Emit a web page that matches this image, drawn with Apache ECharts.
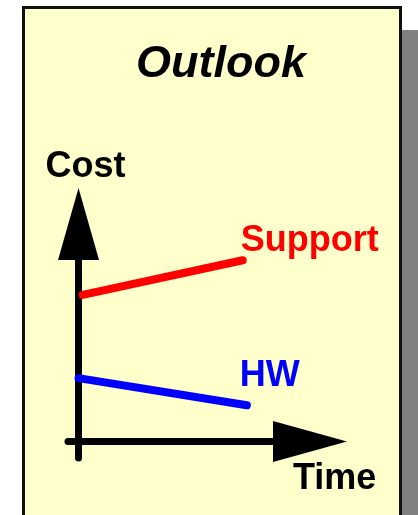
<!DOCTYPE html>
<html>
<head>
<meta charset="utf-8">
<script src="https://cdn.jsdelivr.net/npm/echarts@6/dist/echarts.min.js"></script>
<style>
  html, body { margin: 0; padding: 0; background: #fff; }
  #chart { width: 418px; height: 515px; }
</style>
</head>
<body>
<div id="chart"></div>
<script>
// sketch values (time, cost)
var supportData = [[0.2, 8.9], [7.8, 11.0]];
var hwData = [[0, 3.85], [8, 2.2]];
var seriesNames = ["Support", "HW"];
var axisNames = { x: "Time", y: "Cost" };
var titleText = "Outlook";

var font = "'Liberation Sans', Arial, Helvetica, sans-serif";

var chart = echarts.init(document.getElementById("chart"));
var option = {
  animation: false,
  backgroundColor: "#fff",
  graphic: [
    // drop shadow of the slide
    { type: "rect", z: -10, shape: { x: 402, y: 30, width: 40, height: 600 }, style: { fill: "#808080" } },
    { type: "rect", z: -9, shape: { x: 23.5, y: 7.5, width: 377, height: 600 }, style: { fill: "#ffffcc", stroke: "#111", lineWidth: 3 } }
  ],
  title: {
    text: titleText,
    left: 216,
    top: 37,
    textAlign: "center",
    textStyle: { fontSize: 45, fontWeight: "bold", fontStyle: "italic", fontFamily: font, color: "#000" }
  },
  grid: { left: 68, right: 108, top: 224, bottom: 57, outerBoundsMode: "none" },
  xAxis: {
    type: "value",
    min: -0.5,
    max: 11,
    name: axisNames.x,
    nameLocation: "end",
    nameGap: -17,
    nameTextStyle: { fontSize: 36, fontWeight: "bold", fontFamily: font, color: "#000", align: "left", verticalAlign: "top", padding: [20, 0, 0, 0] },
    axisLine: {
      onZero: true,
      symbol: ["none", "triangle"],
      symbolSize: [41, 74],
      lineStyle: { color: "#000", width: 7, cap: "round" }
    },
    axisTick: { show: false },
    axisLabel: { show: false },
    splitLine: { show: false }
  },
  yAxis: {
    type: "value",
    min: -1,
    max: 13.2,
    name: axisNames.y,
    nameLocation: "end",
    nameGap: 39,
    nameTextStyle: { fontSize: 36, fontWeight: "bold", fontFamily: font, color: "#000", padding: [0, 0, 0, 14] },
    axisLine: {
      onZero: true,
      symbol: ["none", "triangle"],
      symbolSize: [41, 72],
      lineStyle: { color: "#000", width: 7, cap: "round" }
    },
    axisTick: { show: false },
    axisLabel: { show: false },
    splitLine: { show: false }
  },
  series: [
    {
      name: seriesNames[0],
      type: "line",
      data: supportData,
      symbol: "none",
      lineStyle: { color: "#ff0000", width: 8, cap: "round" },
      endLabel: {
        show: true,
        formatter: "{a}",
        distance: 0,
        align: "left",
        offset: [-2, -19],
        fontSize: 36,
        fontWeight: "bold",
        fontFamily: font,
        color: "#ff0000"
      }
    },
    {
      name: seriesNames[1],
      type: "line",
      data: hwData,
      symbol: "none",
      lineStyle: { color: "#0000ff", width: 8, cap: "round" },
      endLabel: {
        show: true,
        formatter: "{a}",
        distance: 0,
        align: "left",
        offset: [-7, -29],
        fontSize: 36,
        fontWeight: "bold",
        fontFamily: font,
        color: "#0000ff"
      }
    }
  ]
};
chart.setOption(option);
window.addEventListener("resize", function () {
  chart.resize();
});
</script>
</body>
</html>
